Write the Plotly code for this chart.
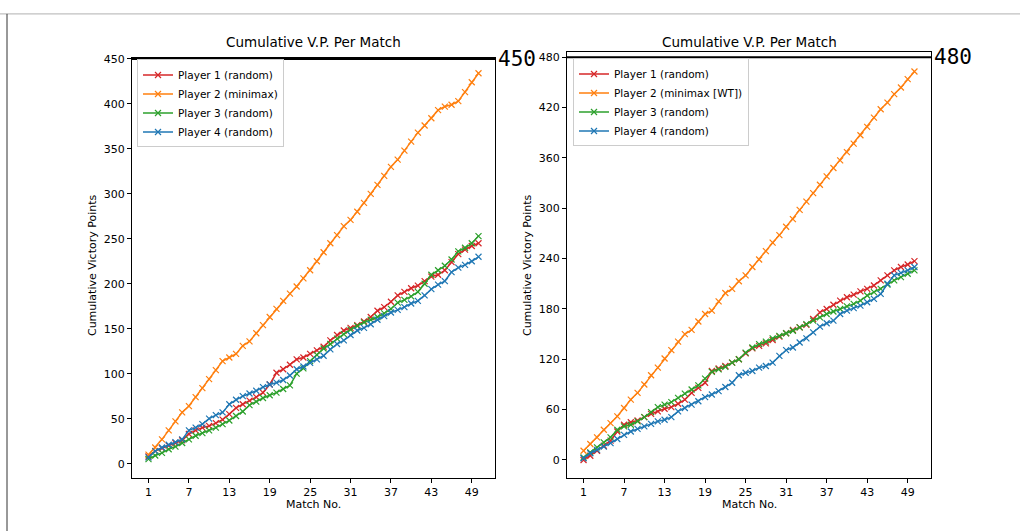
import plotly.graph_objects as go

W, H = 1020, 531

matches = list(range(1, 51))

# Left panel: minimax agent vs three random agents
left_p1 = [8, 14, 17, 20, 23, 26, 33, 37, 40, 42, 45, 49, 55, 62, 66, 70, 74, 79, 88, 101,
           105, 110, 116, 118, 122, 126, 130, 137, 143, 148, 151, 154, 158, 163, 170, 174, 180, 187, 191, 195,
           198, 203, 208, 210, 215, 224, 233, 238, 242, 245]
left_p2 = [10, 18, 27, 37, 47, 57, 64, 74, 84, 94, 104, 114, 118, 122, 131, 136, 145, 154, 163, 172,
           181, 189, 197, 206, 215, 225, 235, 245, 254, 264, 271, 280, 290, 300, 310, 320, 330, 338, 348, 358,
           368, 376, 384, 393, 397, 399, 403, 413, 424, 434]
left_p3 = [5, 9, 12, 16, 19, 23, 27, 31, 34, 37, 40, 44, 48, 53, 58, 65, 69, 73, 76, 79,
           83, 87, 100, 106, 114, 121, 128, 133, 139, 144, 149, 153, 157, 160, 163, 167, 172, 179, 182, 186,
           191, 200, 210, 215, 220, 227, 236, 240, 245, 253]
left_p4 = [7, 14, 18, 21, 24, 27, 37, 40, 44, 50, 54, 57, 66, 71, 75, 78, 81, 85, 88, 90,
           93, 98, 105, 108, 112, 116, 120, 127, 133, 137, 143, 148, 151, 155, 160, 164, 168, 171, 174, 178,
           181, 187, 194, 199, 203, 213, 218, 221, 225, 230]

# Right panel: minimax [WT] agent vs three random agents
right_p1 = [0, 5, 11, 17, 23, 34, 42, 45, 47, 51, 55, 58, 61, 63, 67, 72, 80, 86, 92, 106,
            109, 112, 116, 120, 127, 133, 136, 139, 143, 147, 151, 155, 158, 161, 168, 176, 180, 185, 190, 194,
            197, 201, 204, 208, 214, 220, 226, 230, 233, 237]
right_p2 = [11, 19, 27, 36, 44, 52, 62, 72, 80, 90, 101, 110, 121, 131, 141, 150, 155, 165, 174, 178,
            189, 199, 204, 213, 220, 230, 239, 249, 259, 268, 278, 287, 298, 308, 318, 328, 338, 348, 357, 367,
            377, 387, 397, 408, 418, 426, 436, 444, 454, 463]
right_p3 = [3, 9, 15, 21, 27, 36, 40, 42, 46, 51, 57, 63, 66, 69, 74, 79, 84, 89, 97, 105,
            108, 111, 116, 120, 128, 134, 138, 141, 145, 148, 151, 154, 158, 162, 166, 170, 174, 177, 180, 183,
            186, 190, 196, 200, 204, 209, 214, 218, 222, 226]
right_p4 = [2, 8, 12, 16, 20, 25, 30, 34, 37, 40, 43, 46, 48, 51, 58, 62, 66, 70, 75, 78,
            82, 87, 92, 101, 104, 106, 110, 112, 116, 124, 131, 134, 140, 145, 152, 159, 163, 166, 174, 178,
            181, 184, 188, 192, 198, 210, 220, 223, 226, 230]

left_names = ["Player 1 (random)", "Player 2 (minimax)", "Player 3 (random)", "Player 4 (random)"]
right_names = ["Player 1 (random)", "Player 2 (minimax [WT])", "Player 3 (random)", "Player 4 (random)"]
colors = ["#d62728", "#ff7f0e", "#2ca02c", "#1f77b4"]

x_ticks = [1, 7, 13, 19, 25, 31, 37, 43, 49]
left_yticks = [0, 50, 100, 150, 200, 250, 300, 350, 400, 450]
right_yticks = [0, 60, 120, 180, 240, 300, 360, 420, 480]
left_cap = 450
right_cap = 480

# pixel boxes of the two axes (left, right, top, bottom)
BOX_L = (132, 495, 53, 477)
BOX_R = (567, 931, 47.5, 477)


def px_x(p):
    return p / W


def px_y(p):
    return 1 - p / H


fig = go.Figure()

panels = [
    ("x", "y", "legend", left_names, [left_p1, left_p2, left_p3, left_p4]),
    ("x2", "y2", "legend2", right_names, [right_p1, right_p2, right_p3, right_p4]),
]
for xa, ya, lg, names, series in panels:
    for name, col, vals in zip(names, colors, series):
        fig.add_trace(go.Scatter(
            x=matches, y=vals, name=name, xaxis=xa, yaxis=ya, legend=lg,
            mode="lines+markers",
            line=dict(color=col, width=1.5),
            marker=dict(symbol="x-thin", size=6, line=dict(color=col, width=1.2), color=col),
        ))

axis_font = dict(family="DejaVu Sans", size=11, color="black")
common_x = dict(range=[-1.45, 52.45], tickvals=x_ticks, ticks="outside", ticklen=4, tickwidth=1,
                tickcolor="black", showline=True, mirror=True, linecolor="black", linewidth=1,
                showgrid=False, zeroline=False, tickfont=axis_font)
common_y = dict(ticks="outside", ticklen=4, tickwidth=1, tickcolor="black", showline=True, mirror=True,
                linecolor="black", linewidth=1, showgrid=False, zeroline=False, tickfont=axis_font)


def y_range(box, zero_px, px_per_unit):
    return [(zero_px - box[3]) / px_per_unit, (zero_px - box[2]) / px_per_unit]


legend_style = dict(xanchor="left", yanchor="top", bgcolor="rgba(255,255,255,0.8)",
                    bordercolor="#cccccc", borderwidth=1, tracegroupgap=0, itemwidth=30,
                    font=dict(family="DejaVu Sans", size=10.5, color="black"))

fig.update_layout(
    width=W, height=H, margin=dict(l=0, r=0, t=0, b=0),
    paper_bgcolor="white", plot_bgcolor="white",
    xaxis=dict(domain=[px_x(BOX_L[0]), px_x(BOX_L[1])], anchor="y", **common_x),
    yaxis=dict(domain=[px_y(BOX_L[3]), px_y(BOX_L[2])], anchor="x",
               range=y_range(BOX_L, 463.0, 0.908), tickvals=left_yticks, **common_y),
    xaxis2=dict(domain=[px_x(BOX_R[0]), px_x(BOX_R[1])], anchor="y2", **common_x),
    yaxis2=dict(domain=[px_y(BOX_R[3]), px_y(BOX_R[2])], anchor="x2",
                range=y_range(BOX_R, 459.3, 0.847), tickvals=right_yticks, **common_y),
    legend=dict(x=px_x(137), y=px_y(55), **legend_style),
    legend2=dict(x=px_x(573), y=px_y(54), **legend_style),
    showlegend=True,
)

# cap lines with their value written beside the panel
for (xa, ya, cap, box) in [("x", "y", left_cap, BOX_L), ("x2", "y2", right_cap, BOX_R)]:
    fig.add_shape(type="line", xref=f"{xa} domain", yref=ya, x0=0, x1=1, y0=cap, y1=cap,
                  line=dict(color="black", width=2))
    fig.add_annotation(x=px_x(box[1] + 1), y=cap, xref="paper", yref=ya, text=str(cap),
                       showarrow=False, xanchor="left", yanchor="middle",
                       font=dict(family="DejaVu Sans Mono", size=21, color="black"))

# titles and axis labels
for box in (BOX_L, BOX_R):
    cx = px_x((box[0] + box[1]) / 2)
    fig.add_annotation(x=cx, y=px_y(37), xref="paper", yref="paper", text="Cumulative V.P. Per Match",
                       showarrow=False, xanchor="center", yanchor="middle",
                       font=dict(family="DejaVu Sans", size=13.5, color="black"))
    fig.add_annotation(x=cx, y=px_y(504), xref="paper", yref="paper", text="Match No.",
                       showarrow=False, xanchor="center", yanchor="middle",
                       font=dict(family="DejaVu Sans", size=11, color="black"))
    fig.add_annotation(x=px_x(box[0] - 40), y=px_y((48 + box[3]) / 2), xref="paper", yref="paper",
                       text="Cumulative Victory Points", textangle=-90,
                       showarrow=False, xanchor="center", yanchor="middle",
                       font=dict(family="DejaVu Sans", size=11, color="black"))

# outer frame edges
fig.add_shape(type="line", xref="paper", yref="paper", x0=0, x1=1, y0=px_y(9), y1=px_y(9),
              line=dict(color="#b0b0b0", width=1))
fig.add_shape(type="line", xref="paper", yref="paper", x0=px_x(7), x1=px_x(7), y0=0, y1=px_y(9),
              line=dict(color="#333333", width=1))

fig.write_html("out.html")
